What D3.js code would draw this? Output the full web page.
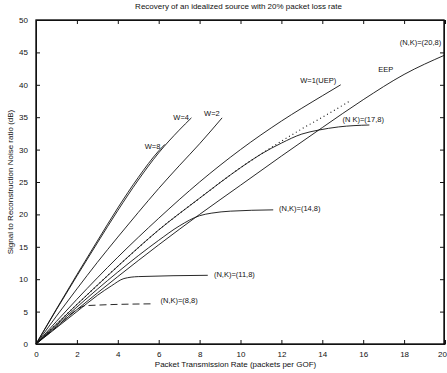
<!DOCTYPE html>
<html>
<head>
<meta charset="utf-8">
<script src="https://cdn.jsdelivr.net/npm/d3@7"></script>
<style>
  body { margin: 0; background: #fff; }
  svg text { font-family: "Liberation Sans", Arial, sans-serif; fill: #111; }
  .axis path, .axis line { stroke: #111; }
</style>
</head>
<body>
<div id="chart"></div>
<script>
// values (x: packets per GOF, y: dB)
const xTicks = [0, 2, 4, 6, 8, 10, 12, 14, 16, 18, 20];
const yTicks = [0, 5, 10, 15, 20, 25, 30, 35, 40, 45, 50];

const w8   = [[0,0],[1,5.4],[2,10.7],[3,15.9],[4,21],[5,25.7],[6,29.8],[6.3,30.8]];
const w4   = [[0,0],[1,5.3],[2,10.5],[3,15.6],[4,20.6],[5,25.3],[6,29.5],[7,33],[7.6,34.9]];
const w2   = [[0,0],[1,4.3],[2,8.5],[3,12.6],[4,16.5],[5,20.3],[6,24],[7,27.5],[8,30.9],[9.1,34.9]];
const w1   = [[0,0],[2,6.9],[4,13.4],[6,19.4],[8,25],[10,30],[12,34.4],[14,38.3],[14.9,40]];
const dotted = [[0,0],[2,6.1],[4,12],[6,17.6],[8,22.5],[10,27.2],[11,29.3],[12,31.3],[13,33.2],[14,35],[15.3,37.4]];
const nk17 = [[0,0],[2,6.1],[4,12],[6,17.6],[8,22.5],[10,27.2],[11,29.3],[12,31],[13,32.4],[13.8,33],[14.8,33.5],[16.3,33.8]];
const nk14 = [[0,0],[2,5.7],[4,11.1],[6,16],[7,18.2],[8,19.8],[8.6,20.2],[9.5,20.5],[11.6,20.7]];
const nk11 = [[0,0],[1,2.5],[2,5],[3,7.5],[3.7,9],[4.3,10.1],[5,10.4],[8.4,10.6]];
const nk8  = [[0,0],[1,2.6],[2,5.3],[2.4,5.9],[3,6],[5.7,6.2]];
const eep  = [[0,0],[2,5.3],[4,10.4],[6,15.3],[8,20],[10,24.5],[12,29],[14,33.4],[16,37.7],[18,41.6],[20,44.6]];

const seriesNames = ["W=8","W=4","W=2","W=1(UEP)","bound","(N,K)=(17,8)","(N,K)=(14,8)","(N,K)=(11,8)","(N,K)=(8,8)","EEP"];
const seriesData  = [w8, w4, w2, w1, dotted, nk17, nk14, nk11, nk8, eep];
const seriesDash  = [null, null, null, null, "1,3", null, null, null, "7,4", null];

// curve labels, placed in data units
const labelText = ["W=8","W=4","W=2","W=1(UEP)","EEP","(N,K)=(20,8)","(N K)=(17,8)","(N,K)=(14,8)","(N,K)=(11,8)","(N,K)=(8,8)"];
const labelX    = [5.7, 7.1, 8.6, 13.8, 17.1, 18.8, 16.0, 12.9, 9.7, 7.0];
const labelY    = [30.1, 34.6, 35.2, 40.3, 41.9, 46.1, 34.2, 20.6, 10.4, 6.3];

const config = {
  width: 447, height: 373,
  margin: { top: 20, right: 2, bottom: 29, left: 36 },
  tickLen: 4,
  fontSize: 8
};

const svg = d3.select('#chart').append('svg')
  .attr('width', config.width)
  .attr('height', config.height);

const iw = config.width - config.margin.left - config.margin.right;
const ih = config.height - config.margin.top - config.margin.bottom;

const x = d3.scaleLinear().domain([0, 20]).range([0, iw]);
const y = d3.scaleLinear().domain([0, 50]).range([ih, 0]);

const g = svg.append('g')
  .attr('transform', `translate(${config.margin.left},${config.margin.top})`);

// frame box
g.append('rect')
  .attr('x', x.range()[0])
  .attr('y', y.range()[1])
  .attr('width', iw - 1)
  .attr('height', ih)
  .attr('fill', 'none')
  .attr('stroke', '#000')
  .attr('stroke-width', 1.3);

// inward ticks on all four sides (matlab style)
const xAxis = g.append('g').attr('class', 'axis')
  .attr('transform', `translate(0,${ih})`)
  .call(d3.axisBottom(x).tickValues(xTicks).tickSizeInner(-config.tickLen).tickSizeOuter(0).tickPadding(7))
  .call(a => a.selectAll('text').attr('font-size', config.fontSize));
xAxis.selectAll('text').filter(d => d === 20).attr('dx', -3);

g.append('g').attr('class', 'axis')
  .call(d3.axisTop(x).tickValues(xTicks).tickSizeInner(-config.tickLen).tickSizeOuter(0).tickFormat(''));

g.append('g').attr('class', 'axis')
  .call(d3.axisLeft(y).tickValues(yTicks).tickSizeInner(-config.tickLen).tickSizeOuter(0).tickPadding(8))
  .call(a => a.selectAll('text').attr('font-size', config.fontSize));
g.append('g').attr('class', 'axis')
  .attr('transform', `translate(${iw - 1},0)`)
  .call(d3.axisRight(y).tickValues(yTicks).tickSizeInner(-config.tickLen).tickSizeOuter(0).tickFormat(''));

const line = d3.line()
  .x(d => x(d[0]))
  .y(d => y(d[1]))
  .curve(d3.curveMonotoneX);

g.selectAll('path.curve')
  .data(seriesData)
  .join('path')
  .attr('class', 'curve')
  .attr('fill', 'none')
  .attr('stroke', '#111')
  .attr('stroke-width', (d, i) => i === 4 ? 1.1 : 0.9)
  .attr('stroke-dasharray', (d, i) => seriesDash[i])
  .attr('d', line);

g.selectAll('text.lbl')
  .data(labelText)
  .join('text')
  .attr('class', 'lbl')
  .attr('x', (d, i) => x(labelX[i]))
  .attr('y', (d, i) => y(labelY[i]))
  .attr('text-anchor', 'middle')
  .attr('font-size', 7.5)
  .text(d => d);

// title and axis titles
svg.append('text')
  .attr('x', config.margin.left + iw / 2 - 2)
  .attr('y', 9)
  .attr('text-anchor', 'middle')
  .attr('font-size', config.fontSize)
  .text('Recovery of an idealized source with 20% packet loss rate');

svg.append('text')
  .attr('x', config.margin.left + iw / 2 - 5)
  .attr('y', config.height - 6)
  .attr('text-anchor', 'middle')
  .attr('font-size', config.fontSize)
  .text('Packet Transmission Rate (packets per GOF)');

svg.append('text')
  .attr('transform', `translate(13,${config.margin.top + ih / 2}) rotate(-90)`)
  .attr('text-anchor', 'middle')
  .attr('font-size', config.fontSize)
  .text('Signal to Reconstruction Noise ratio (dB)');
</script>
</body>
</html>
